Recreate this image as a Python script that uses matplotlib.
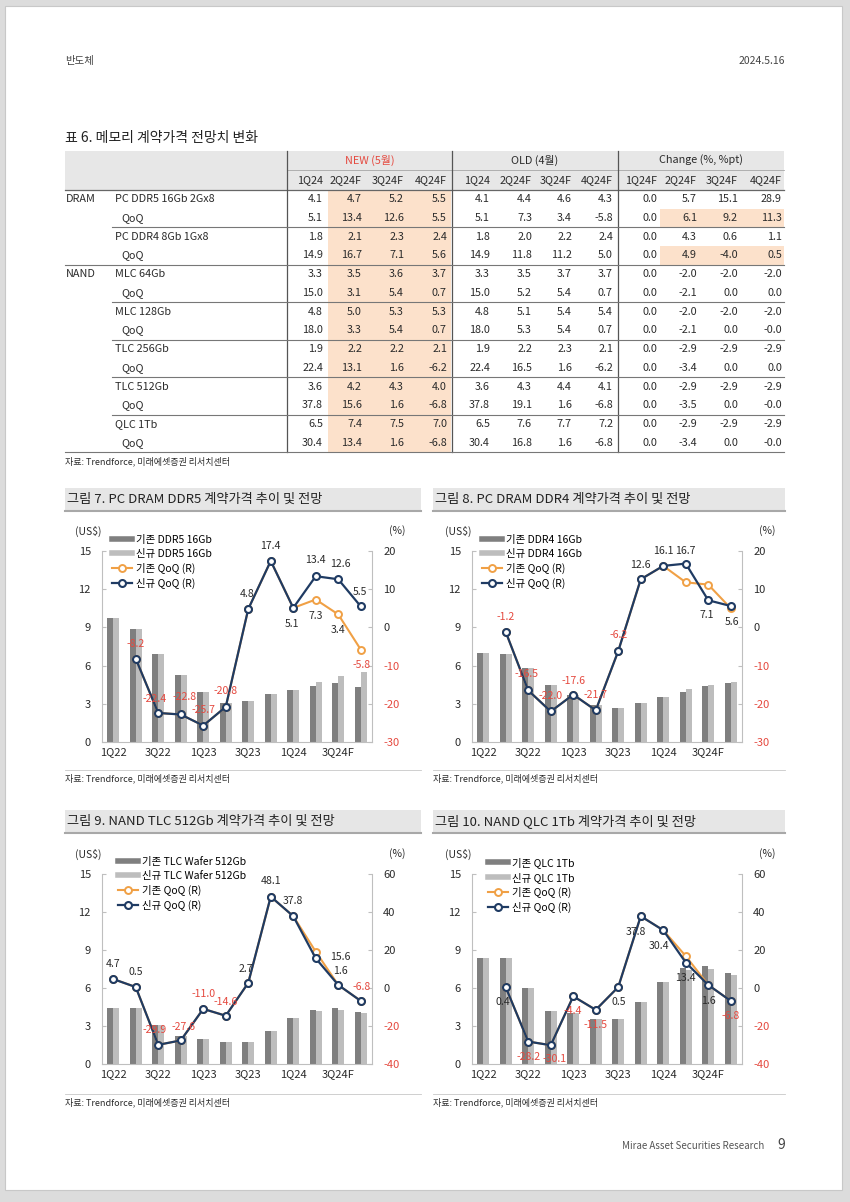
import numpy as np
import matplotlib
matplotlib.use('Agg')
import matplotlib.pyplot as plt
from matplotlib.lines import Line2D
from matplotlib.patches import Rectangle

plt.rcParams['font.family'] = ['Noto Sans CJK KR', 'DejaVu Sans']
plt.rcParams['axes.unicode_minus'] = False

# ---------------- table data ----------------
QUARTER_HEAD = ['1Q24', '2Q24F', '3Q24F', '4Q24F']
CHANGE_HEAD = ['1Q24F', '2Q24F', '3Q24F', '4Q24F']
ROW_LABELS = ['PC DDR5 16Gb 2Gx8', 'QoQ', 'PC DDR4 8Gb 1Gx8', 'QoQ',
              'MLC 64Gb', 'QoQ', 'MLC 128Gb', 'QoQ', 'TLC 256Gb', 'QoQ',
              'TLC 512Gb', 'QoQ', 'QLC 1Tb', 'QoQ']
GROUP_LABELS = {0: 'DRAM', 4: 'NAND'}
NEW_VALUES = [[4.1, 4.7, 5.2, 5.5], [5.1, 13.4, 12.6, 5.5], [1.8, 2.1, 2.3, 2.4],
              [14.9, 16.7, 7.1, 5.6], [3.3, 3.5, 3.6, 3.7], [15.0, 3.1, 5.4, 0.7],
              [4.8, 5.0, 5.3, 5.3], [18.0, 3.3, 5.4, 0.7], [1.9, 2.2, 2.2, 2.1],
              [22.4, 13.1, 1.6, -6.2], [3.6, 4.2, 4.3, 4.0], [37.8, 15.6, 1.6, -6.8],
              [6.5, 7.4, 7.5, 7.0], [30.4, 13.4, 1.6, -6.8]]
OLD_VALUES = [[4.1, 4.4, 4.6, 4.3], [5.1, 7.3, 3.4, -5.8], [1.8, 2.0, 2.2, 2.4],
              [14.9, 11.8, 11.2, 5.0], [3.3, 3.5, 3.7, 3.7], [15.0, 5.2, 5.4, 0.7],
              [4.8, 5.1, 5.4, 5.4], [18.0, 5.3, 5.4, 0.7], [1.9, 2.2, 2.3, 2.1],
              [22.4, 16.5, 1.6, -6.2], [3.6, 4.3, 4.4, 4.1], [37.8, 19.1, 1.6, -6.8],
              [6.5, 7.6, 7.7, 7.2], [30.4, 16.8, 1.6, -6.8]]
CHANGE_VALUES = [['0.0', '5.7', '15.1', '28.9'], ['0.0', '6.1', '9.2', '11.3'],
                 ['0.0', '4.3', '0.6', '1.1'], ['0.0', '4.9', '-4.0', '0.5'],
                 ['0.0', '-2.0', '-2.0', '-2.0'], ['0.0', '-2.1', '0.0', '0.0'],
                 ['0.0', '-2.0', '-2.0', '-2.0'], ['0.0', '-2.1', '0.0', '-0.0'],
                 ['0.0', '-2.9', '-2.9', '-2.9'], ['0.0', '-3.4', '0.0', '0.0'],
                 ['0.0', '-2.9', '-2.9', '-2.9'], ['0.0', '-3.5', '0.0', '-0.0'],
                 ['0.0', '-2.9', '-2.9', '-2.9'], ['0.0', '-3.4', '0.0', '-0.0']]
CHANGE_HIGHLIGHT_ROWS = [1, 3]

# ---------------- chart data ----------------
QUARTERS = ['1Q22', '2Q22', '3Q22', '4Q22', '1Q23', '2Q23', '3Q23', '4Q23',
            '1Q24', '2Q24F', '3Q24F', '4Q24F']
TICK_LABELS = ['1Q22', '', '3Q22', '', '1Q23', '', '3Q23', '', '1Q24', '', '3Q24F', '']

DDR5_OLD_PRICE = [9.7, 8.9, 6.9, 5.3, 3.9, 3.1, 3.25, 3.8, 4.1, 4.4, 4.6, 4.3]
DDR5_NEW_PRICE = [9.7, 8.9, 6.9, 5.3, 3.9, 3.1, 3.25, 3.8, 4.1, 4.7, 5.2, 5.5]
DDR5_OLD_QOQ = [None, -8.2, -22.4, -22.8, -25.7, -20.8, 4.8, 17.4, 5.1, 7.3, 3.4, -5.8]
DDR5_NEW_QOQ = [None, -8.2, -22.4, -22.8, -25.7, -20.8, 4.8, 17.4, 5.1, 13.4, 12.6, 5.5]

DDR4_OLD_PRICE = [7.0, 6.9, 5.8, 4.5, 3.7, 2.9, 2.7, 3.05, 3.55, 3.95, 4.4, 4.65]
DDR4_NEW_PRICE = [7.0, 6.9, 5.8, 4.5, 3.7, 2.9, 2.7, 3.05, 3.55, 4.15, 4.45, 4.7]
DDR4_OLD_QOQ = [None, -1.2, -16.5, -22.0, -17.6, -21.7, -6.2, 12.6, 16.1, 11.8, 11.2, 5.0]
DDR4_NEW_QOQ = [None, -1.2, -16.5, -22.0, -17.6, -21.7, -6.2, 12.6, 16.1, 16.7, 7.1, 5.6]

TLC_OLD_PRICE = [4.4, 4.42, 3.1, 2.25, 1.98, 1.7, 1.75, 2.6, 3.6, 4.3, 4.4, 4.1]
TLC_NEW_PRICE = [4.4, 4.42, 3.1, 2.25, 1.98, 1.7, 1.75, 2.6, 3.6, 4.2, 4.3, 4.0]
TLC_OLD_QOQ = [4.7, 0.5, -29.9, -27.6, -11.0, -14.6, 2.7, 48.1, 37.8, 19.1, 1.6, -6.8]
TLC_NEW_QOQ = [4.7, 0.5, -29.9, -27.6, -11.0, -14.6, 2.7, 48.1, 37.8, 15.6, 1.6, -6.8]

QLC_OLD_PRICE = [8.35, 8.4, 6.0, 4.2, 4.0, 3.55, 3.55, 4.9, 6.5, 7.6, 7.7, 7.2]
QLC_NEW_PRICE = [8.35, 8.4, 6.0, 4.2, 4.0, 3.55, 3.55, 4.9, 6.5, 7.4, 7.5, 7.0]
QLC_OLD_QOQ = [None, 0.4, -28.2, -30.1, -4.4, -11.5, 0.5, 37.8, 30.4, 16.8, 1.6, -6.8]
QLC_NEW_QOQ = [None, 0.4, -28.2, -30.1, -4.4, -11.5, 0.5, 37.8, 30.4, 13.4, 1.6, -6.8]

# label placement (offset in pixels from the point), None = no label
DDR5_NEW_POS = [None, (0, 15), (-4, 14), (4, 17), (0, 16), (0, 16), (-1, 15), (0, 15),
                (-1, -16), (0, 16), (2, 15), (-1, 14)]
DDR5_OLD_POS = [None] * 9 + [(0, -16), (0, -16), (1, -15)]
DDR4_NEW_POS = [None, (0, 15), (-2, 16), (0, 15), (0, 14), (0, 15), (0, 16), (0, 14),
                (0, 15), (0, 13), (-1, -15), (1, -16)]
TLC_NEW_POS = [(0, 15), (0, 15), (-4, 15), (3, 13), (0, 15), (0, 14), (-2, 14), (0, 16),
               (0, 15), (25, 1), (2, 14), (1, 14)]
QLC_NEW_POS = [None, (-3, -15), (0, -15), (4, -14), (0, -15), (0, -15), (0, -15), (-5, -16),
               (-4, -16), (0, -15), (0, -16), (0, -15)]
NO_LABELS = [None] * 12

# colours
TXT = '#2B2B2B'
RED = '#E5493F'
DARK_BAR = '#7F7F7F'
LIGHT_BAR = '#BDBDBD'
ORANGE = '#F0A045'
NAVY = '#1F3B63'
PEACH = '#FCE1CB'
GRID = '#BFBFBF'
SOURCE = '자료: Trendforce, 미래에셋증권 리서치센터'

W, H = 850, 1202
fig = plt.figure(figsize=(W / 100, H / 100), dpi=100, facecolor='#DCDCDC')
page = fig.add_axes([0, 0, 1, 1])
page.set_xlim(0, W)
page.set_ylim(H, 0)
page.axis('off')
page.add_patch(Rectangle((5, 6), 837, 1184, facecolor='white', edgecolor='#C8C8C8', lw=0.8))

# page header / footer
page.text(65, 61, '반도체', fontsize=7.5, color='#444444', va='center')
page.text(785, 61, '2024.5.16', fontsize=7.5, color='#444444', va='center', ha='right')
page.text(764, 1146, 'Mirae Asset Securities Research', fontsize=7, color='#555555',
          va='center', ha='right')
page.text(777, 1145, '9', fontsize=10, color='#444444', va='center')

# ---------------- table ----------------
page.text(65, 138, '표 6. 메모리 계약가격 전망치 변화', fontsize=10, color='#222222', va='center')
TL, TR = 65, 784
HT, HM, HB = 151, 170, 190
TB = 452
ROW_H = (TB - HB) / len(ROW_LABELS)
DIVS = [287, 452, 618]
NEW_RIGHT = [323, 362, 404, 447]
OLD_RIGHT = [490, 532, 572, 613]
CHG_RIGHT = [657, 697, 738, 782]

page.add_patch(Rectangle((TL, HT), TR - TL, HB - HT, facecolor='#E7E7E7', lw=0))
page.add_patch(Rectangle((328, HB), 451 - 328, TB - HB, facecolor=PEACH, lw=0))
for r in CHANGE_HIGHLIGHT_ROWS:
    page.add_patch(Rectangle((660, HB + r * ROW_H), TR - 660, ROW_H, facecolor=PEACH, lw=0))
page.plot([DIVS[0], TR], [HM, HM], color='#A6A6A6', lw=0.6)
page.plot([TL, TR], [HB, HB], color='#666666', lw=0.9)
for d in DIVS:
    page.plot([d, d], [HT, TB], color='#555555', lw=0.9)

page.text((DIVS[0] + DIVS[1]) / 2, 160, 'NEW (5월)', fontsize=7.8, color=RED, ha='center', va='center')
page.text((DIVS[1] + DIVS[2]) / 2, 160, 'OLD (4월)', fontsize=7.8, color=TXT, ha='center', va='center')
page.text((DIVS[2] + TR) / 2, 160, 'Change (%, %pt)', fontsize=7.8, color=TXT, ha='center', va='center')
for j in range(4):
    page.text(NEW_RIGHT[j], 180, QUARTER_HEAD[j], fontsize=7.8, color=TXT, ha='right', va='center')
    page.text(OLD_RIGHT[j], 180, QUARTER_HEAD[j], fontsize=7.8, color=TXT, ha='right', va='center')
    page.text(CHG_RIGHT[j], 180, CHANGE_HEAD[j], fontsize=7.8, color=TXT, ha='right', va='center')

for i, lab in enumerate(ROW_LABELS):
    yc = HB + (i + 0.5) * ROW_H
    if i in GROUP_LABELS:
        page.text(66, yc, GROUP_LABELS[i], fontsize=7.8, color=TXT, va='center')
    page.text(121 if lab == 'QoQ' else 115, yc, lab, fontsize=7.8, color=TXT, va='center')
    for j in range(4):
        page.text(NEW_RIGHT[j], yc, f'{NEW_VALUES[i][j]:.1f}', fontsize=7.8, color=TXT, ha='right', va='center')
        page.text(OLD_RIGHT[j], yc, f'{OLD_VALUES[i][j]:.1f}', fontsize=7.8, color=TXT, ha='right', va='center')
        page.text(CHG_RIGHT[j], yc, CHANGE_VALUES[i][j], fontsize=7.8, color=TXT, ha='right', va='center')
    if i % 2 == 1:
        yl = HB + (i + 1) * ROW_H
        start = TL if i in (3, len(ROW_LABELS) - 1) else 112
        page.plot([start, TR], [yl, yl], color='#777777', lw=0.8)

page.text(65, 461, SOURCE, fontsize=6.5, color=TXT, va='center')


# ---------------- charts ----------------
def section(x0, x1, ytitle, title, ysrc):
    page.add_patch(Rectangle((x0, ytitle), x1 - x0, 23, facecolor='#E6E6E6', lw=0))
    page.plot([x0, x1], [ytitle + 23, ytitle + 23], color='#A8A8A8', lw=1.5)
    page.text(x0 + 2, ytitle + 11.5, title, fontsize=9.5, color='#222222', va='center')
    page.plot([x0, x1], [ysrc - 8, ysrc - 8], color='#C8C8C8', lw=0.6)
    page.text(x0, ysrc, SOURCE, fontsize=6.5, color=TXT, va='center')


def draw_chart(box, old_price, new_price, old_qoq, new_qoq, names, rlim, rticks,
               new_pos, old_pos, leg_dx, leg_dy):
    x0, y0, x1, y1 = box
    ax = fig.add_axes([x0 / W, 1 - y1 / H, (x1 - x0) / W, (y1 - y0) / H])
    x = np.arange(len(QUARTERS))
    ax.bar(x - 0.13, old_price, width=0.26, color=DARK_BAR, zorder=2)
    ax.bar(x + 0.13, new_price, width=0.26, color=LIGHT_BAR, zorder=2)
    ax.set_xlim(-0.5, len(QUARTERS) - 0.5)
    ax.set_ylim(0, 15)
    ax.set_yticks([0, 3, 6, 9, 12, 15])
    ax.set_xticks(x)
    ax.set_xticklabels(TICK_LABELS)
    ax.tick_params(axis='x', length=0, labelsize=8, labelcolor=TXT, pad=4)
    ax.tick_params(axis='y', direction='in', length=3, color=GRID, labelsize=8,
                   labelcolor=TXT, pad=8)
    for s in ['top', 'right']:
        ax.spines[s].set_visible(False)
    for s in ['left', 'bottom']:
        ax.spines[s].set_color(GRID)
        ax.spines[s].set_linewidth(0.8)

    ax2 = ax.twinx()
    oq = np.array(old_qoq, dtype=float)
    nq = np.array(new_qoq, dtype=float)
    ax2.plot(x, oq, color=ORANGE, lw=1.5, marker='o', ms=5, mfc='white', mec=ORANGE,
             mew=1.4, zorder=3)
    ax2.plot(x, nq, color=NAVY, lw=1.6, marker='o', ms=5, mfc='white', mec=NAVY,
             mew=1.5, zorder=4)
    ax2.set_ylim(*rlim)
    ax2.set_yticks(rticks)
    ax2.set_yticklabels([str(t) for t in rticks])
    for t, lab in zip(rticks, ax2.get_yticklabels()):
        lab.set_color(RED if t < 0 else TXT)
    ax2.tick_params(axis='y', direction='in', length=3, color=GRID, labelsize=8, pad=8)
    for s in ['top', 'left', 'bottom']:
        ax2.spines[s].set_visible(False)
    ax2.spines['right'].set_color(GRID)
    ax2.spines['right'].set_linewidth(0.8)

    for vals, pos in ((nq, new_pos), (oq, old_pos)):
        for i, (v, p) in enumerate(zip(vals, pos)):
            if p is None or np.isnan(v):
                continue
            ax2.annotate(f'{v:.1f}', (i, v), xytext=p, textcoords='offset pixels',
                         ha='center', va='center', fontsize=7.6,
                         color=RED if v < 0 else TXT, zorder=6)

    handles = [Line2D([0], [0], color=DARK_BAR, lw=4),
               Line2D([0], [0], color=LIGHT_BAR, lw=4),
               Line2D([0], [0], color=ORANGE, lw=1.5, marker='o', ms=5, mfc='white', mew=1.4),
               Line2D([0], [0], color=NAVY, lw=1.6, marker='o', ms=5, mfc='white', mew=1.5)]
    ax2.legend(handles, names, loc='upper left', frameon=False,
               bbox_to_anchor=(leg_dx / (x1 - x0), 1 + leg_dy / (y1 - y0)),
               borderpad=0, borderaxespad=0, handlelength=1.9, handletextpad=0.45,
               labelspacing=0.38, prop={'size': 7.5})
    page.text(x0 - 14, y0 - 20, '(US$)', fontsize=7.5, color=TXT, ha='center', va='center')
    page.text(x1 + 25, y0 - 20, '(%)', fontsize=7.5, color=TXT, ha='center', va='center')


QOQ_NAMES = ['기존 QoQ (R)', '신규 QoQ (R)']

section(65, 421, 488, '그림 7. PC DRAM DDR5 계약가격 추이 및 전망', 778)
section(433, 785, 488, '그림 8. PC DRAM DDR4 계약가격 추이 및 전망', 778)
section(65, 421, 810, '그림 9. NAND TLC 512Gb 계약가격 추이 및 전망', 1102)
section(433, 785, 810, '그림 10. NAND QLC 1Tb 계약가격 추이 및 전망', 1102)

draw_chart((102, 551, 372, 742), DDR5_OLD_PRICE, DDR5_NEW_PRICE, DDR5_OLD_QOQ, DDR5_NEW_QOQ,
           ['기존 DDR5 16Gb', '신규 DDR5 16Gb'] + QOQ_NAMES, (-30, 20), [-30, -20, -10, 0, 10, 20],
           DDR5_NEW_POS, DDR5_OLD_POS, 10, 16)
draw_chart((472, 551, 742, 742), DDR4_OLD_PRICE, DDR4_NEW_PRICE, DDR4_OLD_QOQ, DDR4_NEW_QOQ,
           ['기존 DDR4 16Gb', '신규 DDR4 16Gb'] + QOQ_NAMES, (-30, 20), [-30, -20, -10, 0, 10, 20],
           DDR4_NEW_POS, NO_LABELS, 10, 16)
draw_chart((102, 874, 372, 1064), TLC_OLD_PRICE, TLC_NEW_PRICE, TLC_OLD_QOQ, TLC_NEW_QOQ,
           ['기존 TLC Wafer 512Gb', '신규 TLC Wafer 512Gb'] + QOQ_NAMES, (-40, 60),
           [-40, -20, 0, 20, 40, 60], TLC_NEW_POS, NO_LABELS, 16, 17)
draw_chart((472, 874, 742, 1064), QLC_OLD_PRICE, QLC_NEW_PRICE, QLC_OLD_QOQ, QLC_NEW_QOQ,
           ['기존 QLC 1Tb', '신규 QLC 1Tb'] + QOQ_NAMES, (-40, 60),
           [-40, -20, 0, 20, 40, 60], QLC_NEW_POS, NO_LABELS, 16, 17)

fig.savefig('out.png', dpi=100, facecolor=fig.get_facecolor())
